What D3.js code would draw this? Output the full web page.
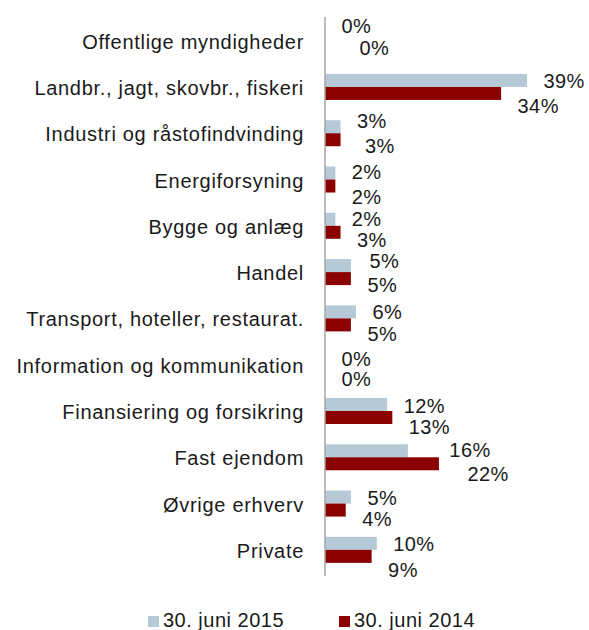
<!DOCTYPE html>
<html>
<head>
<meta charset="utf-8">
<script src="https://cdn.jsdelivr.net/npm/d3@7"></script>
<style>
  body { margin: 0; background: #fff; }
  text { font-family: "Liberation Sans", Arial, sans-serif; fill: #1a1a1a; }
</style>
</head>
<body>
<script>
var categories = ["Offentlige myndigheder", "Landbr., jagt, skovbr., fiskeri", "Industri og råstofindvinding",
  "Energiforsyning", "Bygge og anlæg", "Handel", "Transport, hoteller, restaurat.",
  "Information og kommunikation", "Finansiering og forsikring", "Fast ejendom", "Øvrige erhverv", "Private"];
var values2015 = [0, 39, 3, 2, 2, 5, 6, 0, 12, 16, 5, 10];
var values2014 = [0, 34, 3, 2, 3, 5, 5, 0, 13, 22, 4, 9];
var seriesNames = ["30. juni 2015", "30. juni 2014"];

// label nudges [dx, dy] (labels were hand-placed in the original)
var nudge2015 = [[0, -9], [0, 0], [0, -6], [0, -2], [0, -1], [2, -5], [0, 0], [0, 0], [0, 1], [25, -1], [0, 0], [0, 0]];
var nudge2014 = [[18, -8], [0, 4], [8, -2], [0, 2], [0, -1], [0, -2], [0, 1], [0, -1], [0, 1], [12, 2], [0, 0], [0, 5]];

var colors = ["#b5c9d6", "#8b0000"];
var width = 589, height = 630, barH = 13;

var svg = d3.select("body").append("svg")
    .attr("width", width)
    .attr("height", height);

var x = d3.scaleLinear().domain([0, 39]).range([325, 527]);
var y = d3.scaleBand().domain(categories).range([17.5, 573]);

var rows = svg.selectAll("g.row")
    .data(categories)
    .join("g")
    .attr("class", "row")
    .attr("transform", function (d) { return "translate(0," + (y(d) + y.bandwidth() / 2) + ")"; });

rows.append("text")
    .attr("x", 304)
    .attr("y", 8)
    .attr("text-anchor", "end")
    .style("font-size", "20px")
    .style("letter-spacing", "0.7px")
    .text(function (d) { return d; });

rows.append("rect")
    .attr("x", x(0))
    .attr("y", -barH)
    .attr("width", function (d, i) { return x(values2015[i]) - x(0); })
    .attr("height", barH)
    .style("fill", colors[0]);

rows.append("rect")
    .attr("x", x(0))
    .attr("y", 0)
    .attr("width", function (d, i) { return x(values2014[i]) - x(0); })
    .attr("height", barH)
    .style("fill", colors[1]);

rows.append("text")
    .attr("x", function (d, i) { return x(values2015[i]) + 16.5 + nudge2015[i][0]; })
    .attr("y", function (d, i) { return 1 + nudge2015[i][1]; })
    .style("font-size", "20px")
    .style("letter-spacing", "0.4px")
    .text(function (d, i) { return values2015[i] + "%"; });

rows.append("text")
    .attr("x", function (d, i) { return x(values2014[i]) + 16.5 + nudge2014[i][0]; })
    .attr("y", function (d, i) { return 22 + nudge2014[i][1]; })
    .style("font-size", "20px")
    .style("letter-spacing", "0.4px")
    .text(function (d, i) { return values2014[i] + "%"; });

// axis line
svg.append("line")
    .attr("x1", x(0)).attr("x2", x(0))
    .attr("y1", 17).attr("y2", 576)
    .style("stroke", "#a6a6a6")
    .style("stroke-width", 1.5);

// legend
var legend = svg.selectAll("g.legend")
    .data(seriesNames)
    .join("g")
    .attr("class", "legend")
    .attr("transform", function (d, i) { return "translate(" + (148 + i * 191) + ",616)"; });

legend.append("rect")
    .attr("width", 11).attr("height", 11)
    .style("fill", function (d, i) { return colors[i]; });

legend.append("text")
    .attr("x", 15)
    .attr("y", 11)
    .style("font-size", "20px")
    .style("letter-spacing", "0.5px")
    .text(function (d) { return d; });
</script>
</body>
</html>
